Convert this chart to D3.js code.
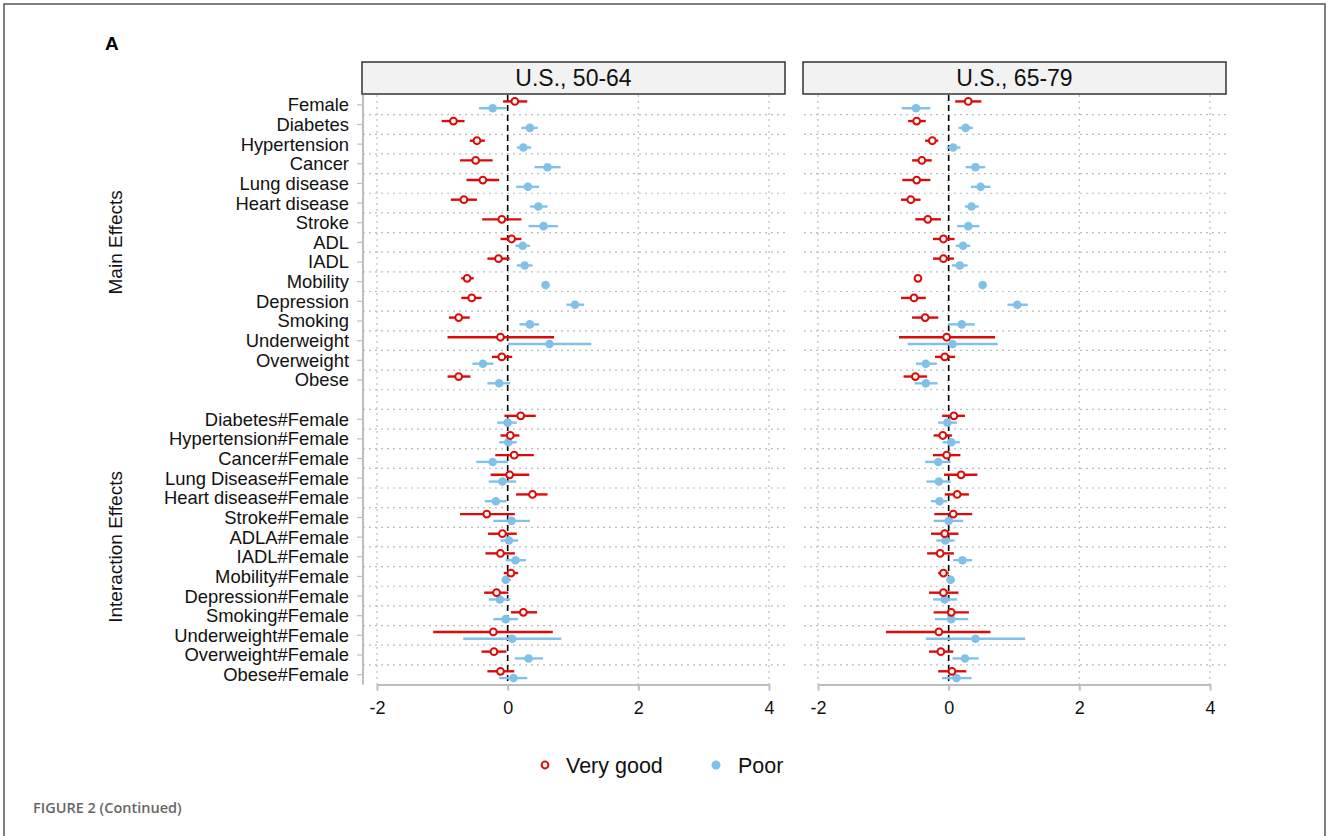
<!DOCTYPE html>
<html lang="en">
<head>
  <meta charset="UTF-8">
  <title>Coefficient plot - U.S. 50-64 / 65-79</title>
  <script src="https://d3js.org/d3.v7.min.js"></script>
  <style>
    body {
      margin: 0;
      background: #fff;
      font-family: "Liberation Sans", Arial, sans-serif;
    }
    .cat-label { font-size: 18.4px; fill: #111; }
    .group-label { font-size: 19px; fill: #111; }
    .panel-title { font-size: 23px; fill: #111; }
    .legend-text { font-size: 21.5px; fill: #111; }
  </style>
</head>
<body>
  <svg width="1330" height="836"></svg>
  <script>
    // categories, top to bottom
    const mainCats = ["Female", "Diabetes", "Hypertension", "Cancer", "Lung disease", "Heart disease",
      "Stroke", "ADL", "IADL", "Mobility", "Depression", "Smoking", "Underweight", "Overweight", "Obese"];
    const interCats = ["Diabetes#Female", "Hypertension#Female", "Cancer#Female", "Lung Disease#Female",
      "Heart disease#Female", "Stroke#Female", "ADLA#Female", "IADL#Female", "Mobility#Female",
      "Depression#Female", "Smoking#Female", "Underweight#Female", "Overweight#Female", "Obese#Female"];

    const panels = ["U.S., 50-64", "U.S., 65-79"];
    const xTicks = [-2, 0, 2, 4];

    // [estimate, lower, upper] per category (main effects then interactions)
    const veryGood5064 = [
      [0.11, -0.07, 0.30], [-0.83, -1.01, -0.66], [-0.47, -0.58, -0.35], [-0.49, -0.73, -0.23],
      [-0.38, -0.63, -0.13], [-0.67, -0.87, -0.47], [-0.09, -0.39, 0.21], [0.06, -0.11, 0.21],
      [-0.14, -0.31, 0.03], [-0.62, -0.71, -0.52], [-0.55, -0.71, -0.40], [-0.75, -0.90, -0.58],
      [-0.11, -0.92, 0.71], [-0.09, -0.24, 0.07], [-0.75, -0.92, -0.57],
      [0.20, -0.05, 0.43], [0.04, -0.11, 0.18], [0.10, -0.19, 0.40], [0.03, -0.26, 0.33],
      [0.38, 0.13, 0.61], [-0.32, -0.73, 0.11], [-0.08, -0.30, 0.14], [-0.11, -0.34, 0.11],
      [0.05, -0.06, 0.16], [-0.17, -0.36, 0.01], [0.24, 0.05, 0.45], [-0.22, -1.14, 0.69],
      [-0.21, -0.40, -0.02], [-0.11, -0.31, 0.10]
    ];
    const poor5064 = [
      [-0.23, -0.44, -0.02], [0.34, 0.21, 0.46], [0.24, 0.14, 0.36], [0.61, 0.41, 0.81],
      [0.31, 0.13, 0.48], [0.47, 0.34, 0.61], [0.55, 0.32, 0.77], [0.23, 0.12, 0.34],
      [0.26, 0.14, 0.38], [0.58, 0.55, 0.61], [1.03, 0.90, 1.17], [0.34, 0.18, 0.48],
      [0.64, 0.00, 1.28], [-0.38, -0.54, -0.22], [-0.13, -0.31, 0.04],
      [0.00, -0.16, 0.14], [0.01, -0.13, 0.14], [-0.23, -0.48, 0.00], [-0.08, -0.29, 0.13],
      [-0.18, -0.35, -0.02], [0.06, -0.22, 0.34], [0.02, -0.11, 0.16], [0.12, -0.03, 0.28],
      [-0.03, -0.09, 0.05], [-0.12, -0.29, 0.04], [-0.03, -0.22, 0.16], [0.07, -0.68, 0.82],
      [0.32, 0.11, 0.54], [0.09, -0.13, 0.30]
    ];
    const veryGood6579 = [
      [0.30, 0.10, 0.50], [-0.49, -0.62, -0.35], [-0.25, -0.36, -0.16], [-0.41, -0.56, -0.26],
      [-0.49, -0.71, -0.28], [-0.58, -0.73, -0.43], [-0.32, -0.51, -0.12], [-0.08, -0.24, 0.09],
      [-0.08, -0.24, 0.08], [-0.47, -0.53, -0.41], [-0.53, -0.73, -0.35], [-0.36, -0.56, -0.16],
      [-0.03, -0.76, 0.71], [-0.06, -0.21, 0.10], [-0.51, -0.69, -0.33],
      [0.08, -0.10, 0.25], [-0.09, -0.23, 0.05], [-0.03, -0.24, 0.18], [0.19, -0.07, 0.44],
      [0.13, -0.06, 0.31], [0.07, -0.22, 0.36], [-0.06, -0.27, 0.15], [-0.13, -0.33, 0.08],
      [-0.08, -0.16, 0.00], [-0.08, -0.30, 0.15], [0.04, -0.23, 0.31], [-0.15, -0.96, 0.64],
      [-0.12, -0.30, 0.07], [0.05, -0.16, 0.27]
    ];
    const poor6579 = [
      [-0.50, -0.72, -0.28], [0.26, 0.15, 0.37], [0.07, -0.03, 0.18], [0.41, 0.26, 0.56],
      [0.49, 0.34, 0.64], [0.35, 0.25, 0.46], [0.30, 0.13, 0.47], [0.22, 0.11, 0.33],
      [0.17, 0.05, 0.29], [0.52, 0.49, 0.55], [1.05, 0.90, 1.21], [0.20, -0.01, 0.40],
      [0.06, -0.63, 0.75], [-0.35, -0.50, -0.18], [-0.35, -0.52, -0.17],
      [-0.02, -0.16, 0.13], [0.04, -0.09, 0.17], [-0.16, -0.36, 0.03], [-0.15, -0.34, 0.03],
      [-0.14, -0.27, -0.02], [0.00, -0.23, 0.22], [-0.05, -0.19, 0.09], [0.21, 0.07, 0.36],
      [0.03, -0.03, 0.09], [-0.06, -0.24, 0.13], [0.04, -0.21, 0.30], [0.41, -0.35, 1.17],
      [0.25, 0.06, 0.46], [0.12, -0.10, 0.35]
    ];

    const red = "#dd0a0a";
    const blue = "#80c1ea";
    const axisGray = "#bdbdbd";

    const svg = d3.select("svg");

    // outer frame + panel letter + caption
    svg.append("rect")
      .attr("x", 4).attr("y", 4).attr("width", 1321).attr("height", 860)
      .attr("fill", "none").attr("stroke", "#555").attr("stroke-width", 1.5);

    svg.append("text")
      .attr("x", 105).attr("y", 50)
      .style("font-size", "19px").style("font-weight", "bold")
      .text("A");

    svg.append("text")
      .attr("x", 33).attr("y", 813)
      .style("font-size", "14.5px").style("font-weight", "600").style("fill", "#666")
      .style("font-family", "'Open Sans', 'Noto Sans', sans-serif")
      .text("FIGURE 2 (Continued)");

    // row slots: main effects, a blank gap, interaction effects
    const slots = mainCats.map((c, i) => "m" + i)
      .concat(["gap"])
      .concat(interCats.map((c, i) => "i" + i));
    const rowKeys = mainCats.map((c, i) => "m" + i).concat(interCats.map((c, i) => "i" + i));
    const rowLabels = mainCats.concat(interCats);

    const plotTop = 95, plotBottom = 684.5;
    const y = d3.scaleBand().domain(slots).range([plotTop, plotBottom]).padding(0);
    const yc = k => y(k) + y.bandwidth() / 2;
    const off = 3.4;

    // left axis
    const axisX = 363;
    svg.append("line")
      .attr("x1", axisX).attr("x2", axisX)
      .attr("y1", plotTop).attr("y2", plotBottom)
      .attr("stroke", axisGray).attr("stroke-width", 2);

    const yAxisG = svg.append("g");
    rowKeys.forEach((k, i) => {
      yAxisG.append("line")
        .attr("x1", axisX - 6).attr("x2", axisX)
        .attr("y1", yc(k)).attr("y2", yc(k))
        .attr("stroke", axisGray).attr("stroke-width", 1.2);
      yAxisG.append("text")
        .attr("class", "cat-label")
        .attr("x", axisX - 14).attr("y", yc(k))
        .attr("dy", "0.35em")
        .attr("text-anchor", "end")
        .text(rowLabels[i]);
    });

    const mainMid = (yc("m0") + yc("m14")) / 2;
    const interMid = (yc("i0") + yc("i13")) / 2;
    [["Main Effects", mainMid], ["Interaction Effects", interMid]].forEach(([t, cy]) => {
      svg.append("text")
        .attr("class", "group-label")
        .attr("transform", `translate(122,${cy}) rotate(-90)`)
        .attr("text-anchor", "middle")
        .text(t);
    });

    // panels
    const panelBoxes = [[362, 785], [803, 1226]];
    const panelData = [[veryGood5064, poor5064], [veryGood6579, poor6579]];

    panels.forEach((title, p) => {
      const [px0, px1] = panelBoxes[p];
      const x = d3.scaleLinear().domain([-2, 4]).range([px0 + 15, px1 - 16]);
      const g = svg.append("g");

      // header strip
      g.append("rect")
        .attr("x", px0).attr("y", 62).attr("width", px1 - px0).attr("height", 32)
        .attr("fill", "#f2f2f2").attr("stroke", "#333").attr("stroke-width", 1.5);
      g.append("text")
        .attr("class", "panel-title")
        .attr("x", (px0 + px1) / 2).attr("y", 86)
        .attr("text-anchor", "middle")
        .text(title);

      // horizontal dotted grid between rows
      slots.slice(1).forEach(k => {
        g.append("line")
          .attr("x1", px0 + 1).attr("x2", px1)
          .attr("y1", y(k)).attr("y2", y(k))
          .attr("stroke", "#bcbcbc").attr("stroke-width", 1.2)
          .attr("stroke-dasharray", "2,4");
      });

      // vertical dotted grid
      xTicks.filter(t => t !== 0).forEach(t => {
        g.append("line")
          .attr("x1", x(t)).attr("x2", x(t))
          .attr("y1", plotTop).attr("y2", plotBottom)
          .attr("stroke", "#bcbcbc").attr("stroke-width", 1.2)
          .attr("stroke-dasharray", "2,4");
      });

      // zero reference line
      g.append("line")
        .attr("x1", x(0)).attr("x2", x(0))
        .attr("y1", plotTop).attr("y2", plotBottom)
        .attr("stroke", "#000").attr("stroke-width", 1.6)
        .attr("stroke-dasharray", "6,4");

      // bottom axis
      const xAxis = g.append("g")
        .attr("transform", `translate(0,${plotBottom})`)
        .call(d3.axisBottom(x).tickValues(xTicks).tickFormat(d => String(d))
          .tickSize(6).tickSizeOuter(0));
      xAxis.select(".domain").attr("stroke", axisGray).attr("stroke-width", 2);
      xAxis.selectAll(".tick line").attr("stroke", axisGray).attr("stroke-width", 2);
      xAxis.selectAll(".tick text")
        .attr("y", 17)
        .style("font-family", "'Liberation Sans', Arial, sans-serif")
        .style("font-size", "18px").attr("fill", "#111");

      const [vg, pr] = panelData[p];

      // CIs
      [[vg, -off, red], [pr, off, blue]].forEach(([series, dy, col]) => {
        g.selectAll(null)
          .data(series)
          .enter()
          .append("line")
          .attr("x1", d => x(d[1])).attr("x2", d => x(d[2]))
          .attr("y1", (d, i) => yc(rowKeys[i]) + dy)
          .attr("y2", (d, i) => yc(rowKeys[i]) + dy)
          .attr("stroke", col).attr("stroke-width", 2.4);
      });

      // points
      g.selectAll(null)
        .data(pr)
        .enter()
        .append("circle")
        .attr("cx", d => x(d[0]))
        .attr("cy", (d, i) => yc(rowKeys[i]) + off)
        .attr("r", 4.3)
        .attr("fill", blue);

      g.selectAll(null)
        .data(vg)
        .enter()
        .append("circle")
        .attr("cx", d => x(d[0]))
        .attr("cy", (d, i) => yc(rowKeys[i]) - off)
        .attr("r", 3.4)
        .attr("fill", "#fff")
        .attr("stroke", red).attr("stroke-width", 2);
    });

    // legend
    const legend = svg.append("g").attr("transform", "translate(0,765)");
    legend.append("circle").attr("cx", 545).attr("cy", 0).attr("r", 3.4)
      .attr("fill", "#fff").attr("stroke", red).attr("stroke-width", 2);
    legend.append("text").attr("class", "legend-text").attr("x", 566).attr("y", 0)
      .attr("dy", "0.35em").text("Very good");
    legend.append("circle").attr("cx", 716).attr("cy", 0).attr("r", 4.5).attr("fill", blue);
    legend.append("text").attr("class", "legend-text").attr("x", 738).attr("y", 0)
      .attr("dy", "0.35em").text("Poor");
  </script>
</body>
</html>
